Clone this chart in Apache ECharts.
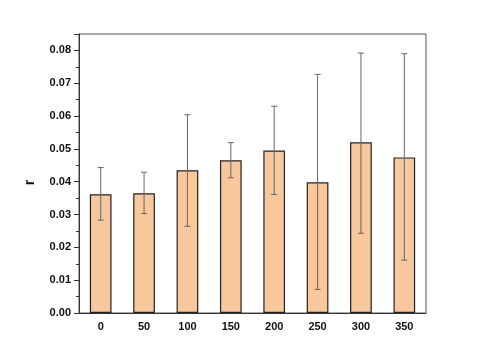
<!DOCTYPE html>
<html><head><meta charset="utf-8">
<script src="https://cdn.jsdelivr.net/npm/echarts@6/dist/echarts.min.js"></script>
<style>html,body{margin:0;padding:0;background:#fff}#c{width:500px;height:341px}</style>
</head><body><div id="c"></div>
<script>
var categories = ['0','50','100','150','200','250','300','350'];
var values = [0.0362, 0.0365, 0.0435, 0.0465, 0.0495, 0.0398, 0.0520, 0.0474];
var errLow = [0.0283, 0.0303, 0.0264, 0.0412, 0.0361, 0.0072, 0.0243, 0.0161];
var errHigh = [0.0443, 0.0429, 0.0604, 0.0519, 0.0630, 0.0727, 0.0792, 0.0790];
var yTicks = [0, 0.01, 0.02, 0.03, 0.04, 0.05, 0.06, 0.07, 0.08];

var errData = categories.map(function(c, i){ return [i, errLow[i], errHigh[i]]; });
var chart = echarts.init(document.getElementById('c'));
var lbl = {color:'#111', fontWeight:'bold', fontSize:11, fontFamily:'Arial, Liberation Sans, sans-serif'};
chart.setOption({
  animation:false,
  grid:{left:79, right:74, top:34, bottom:28, show:true, borderColor:'#555', borderWidth:1, backgroundColor:'transparent'},
  xAxis:{type:'category', data:categories, boundaryGap:true,
    axisLine:{lineStyle:{color:'#333', width:1}},
    axisTick:{alignWithLabel:true, length:4, lineStyle:{color:'#333'}},
    axisLabel:Object.assign({margin:8}, lbl)},
  yAxis:{type:'value', min:0, max:0.085, interval:0.01, name:'r', nameLocation:'middle', nameGap:42, nameRotate:90,
    nameTextStyle:{fontWeight:'bold', fontSize:14, color:'#111', fontFamily:'Arial, Liberation Sans, sans-serif', padding:[0,0,0,-18]},
    axisLine:{show:true, lineStyle:{color:'#333'}},
    axisTick:{show:true, length:5, lineStyle:{color:'#333'}},
    minorTick:{show:true, splitNumber:2, length:3, lineStyle:{color:'#333'}},
    splitLine:{show:false},
    axisLabel:Object.assign({margin:8, formatter:function(v){return yTicks.indexOf(Math.round(v*100)/100)>=0 && Math.abs(v*100-Math.round(v*100))<1e-6 ? v.toFixed(2) : '';}}, lbl)},
  series:[
    {type:'bar', data:values, barWidth:'50%', itemStyle:{color:'#F8C89C', borderColor:'#222', borderWidth:1.2}},
    {type:'custom', data:errData, z:10,
      renderItem:function(params, api){
        var x = api.value(0);
        var lo = api.coord([x, api.value(1)]);
        var hi = api.coord([x, api.value(2)]);
        var w = 3;
        var st = {stroke:'#666', lineWidth:1};
        return {type:'group', children:[
          {type:'line', shape:{x1:lo[0], y1:lo[1], x2:hi[0], y2:hi[1]}, style:st},
          {type:'line', shape:{x1:lo[0]-w, y1:lo[1], x2:lo[0]+w, y2:lo[1]}, style:st},
          {type:'line', shape:{x1:hi[0]-w, y1:hi[1], x2:hi[0]+w, y2:hi[1]}, style:st}
        ]};
      }}
  ]
});
</script></body></html>
